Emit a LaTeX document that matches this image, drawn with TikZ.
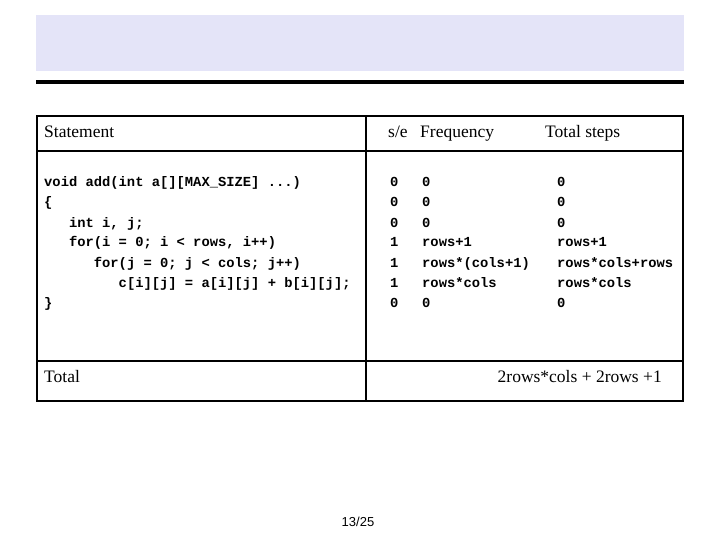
\documentclass[tikz,border=0pt]{standalone}
\usepackage{fontspec}
\setmainfont{Liberation Serif}
\newfontfamily\codef{Liberation Mono}
\newfontfamily\pagef{Liberation Sans}
\begin{document}
\begin{tikzpicture}[x=1pt,y=-1pt,
  hdr/.style={anchor=base west,inner sep=0pt,font=\fontsize{17.5}{17.5}\selectfont},
  code/.style={anchor=base west,inner sep=0pt,font=\codef\bfseries\fontsize{13.8}{13.8}\selectfont}]
\useasboundingbox (0,0) rectangle (720,540);
\fill[fill={rgb,255:red,228;green,228;blue,248}] (36,15) rectangle (684,71);
\draw[line width=4] (36,82) -- (684,82);
\draw[line width=1.2] (366,116) -- (366,401);
\draw[line width=1.2] (37,151) -- (683,151);
\draw[line width=1.2] (37,361) -- (683,361);
\draw[line width=2.5] (37,116) rectangle (683,401);
\node[hdr] (h1) at (44,138) {Statement};
\node[hdr] (h2) at (388,138) {s/e};
\node[hdr] (h3) at (420,138) {Frequency};
\node[hdr] (h4) at (545,138) {Total steps};
\foreach \i/\s/\e/\f/\t in {
 0/{void add(int a[][MAX\_SIZE] ...)}/0/0/0,
 1/{\{}/0/0/0,
 2/{\ \ \ int i, j;}/0/0/0,
 3/{\ \ \ for(i = 0; i < rows, i++)}/1/rows+1/rows+1,
 4/{\ \ \ \ \ \ for(j = 0; j < cols; j++)}/1/rows*(cols+1)/rows*cols+rows,
 5/{\ \ \ \ \ \ \ \ \ c[i][j] = a[i][j] + b[i][j];}/1/rows*cols/rows*cols,
 6/{\}}/0/0/0}{
 \node[code] (c\i) at (44,187+20*\i) {\s};
 \node[code] (e\i) at (390,187+20*\i) {\e};
 \node[code] (f\i) at (422,187+20*\i) {\f};
 \node[code] (t\i) at (557,187+20*\i) {\t};
}
\node[hdr] (tot) at (44,382) {Total};
\node[hdr,anchor=base east] (tv) at (662,382) {2rows*cols + 2rows +1};
\node[inner sep=0pt,font=\pagef\fontsize{13}{13}\selectfont] (pg) at (358,522) {13/25};
\end{tikzpicture}
\end{document}
